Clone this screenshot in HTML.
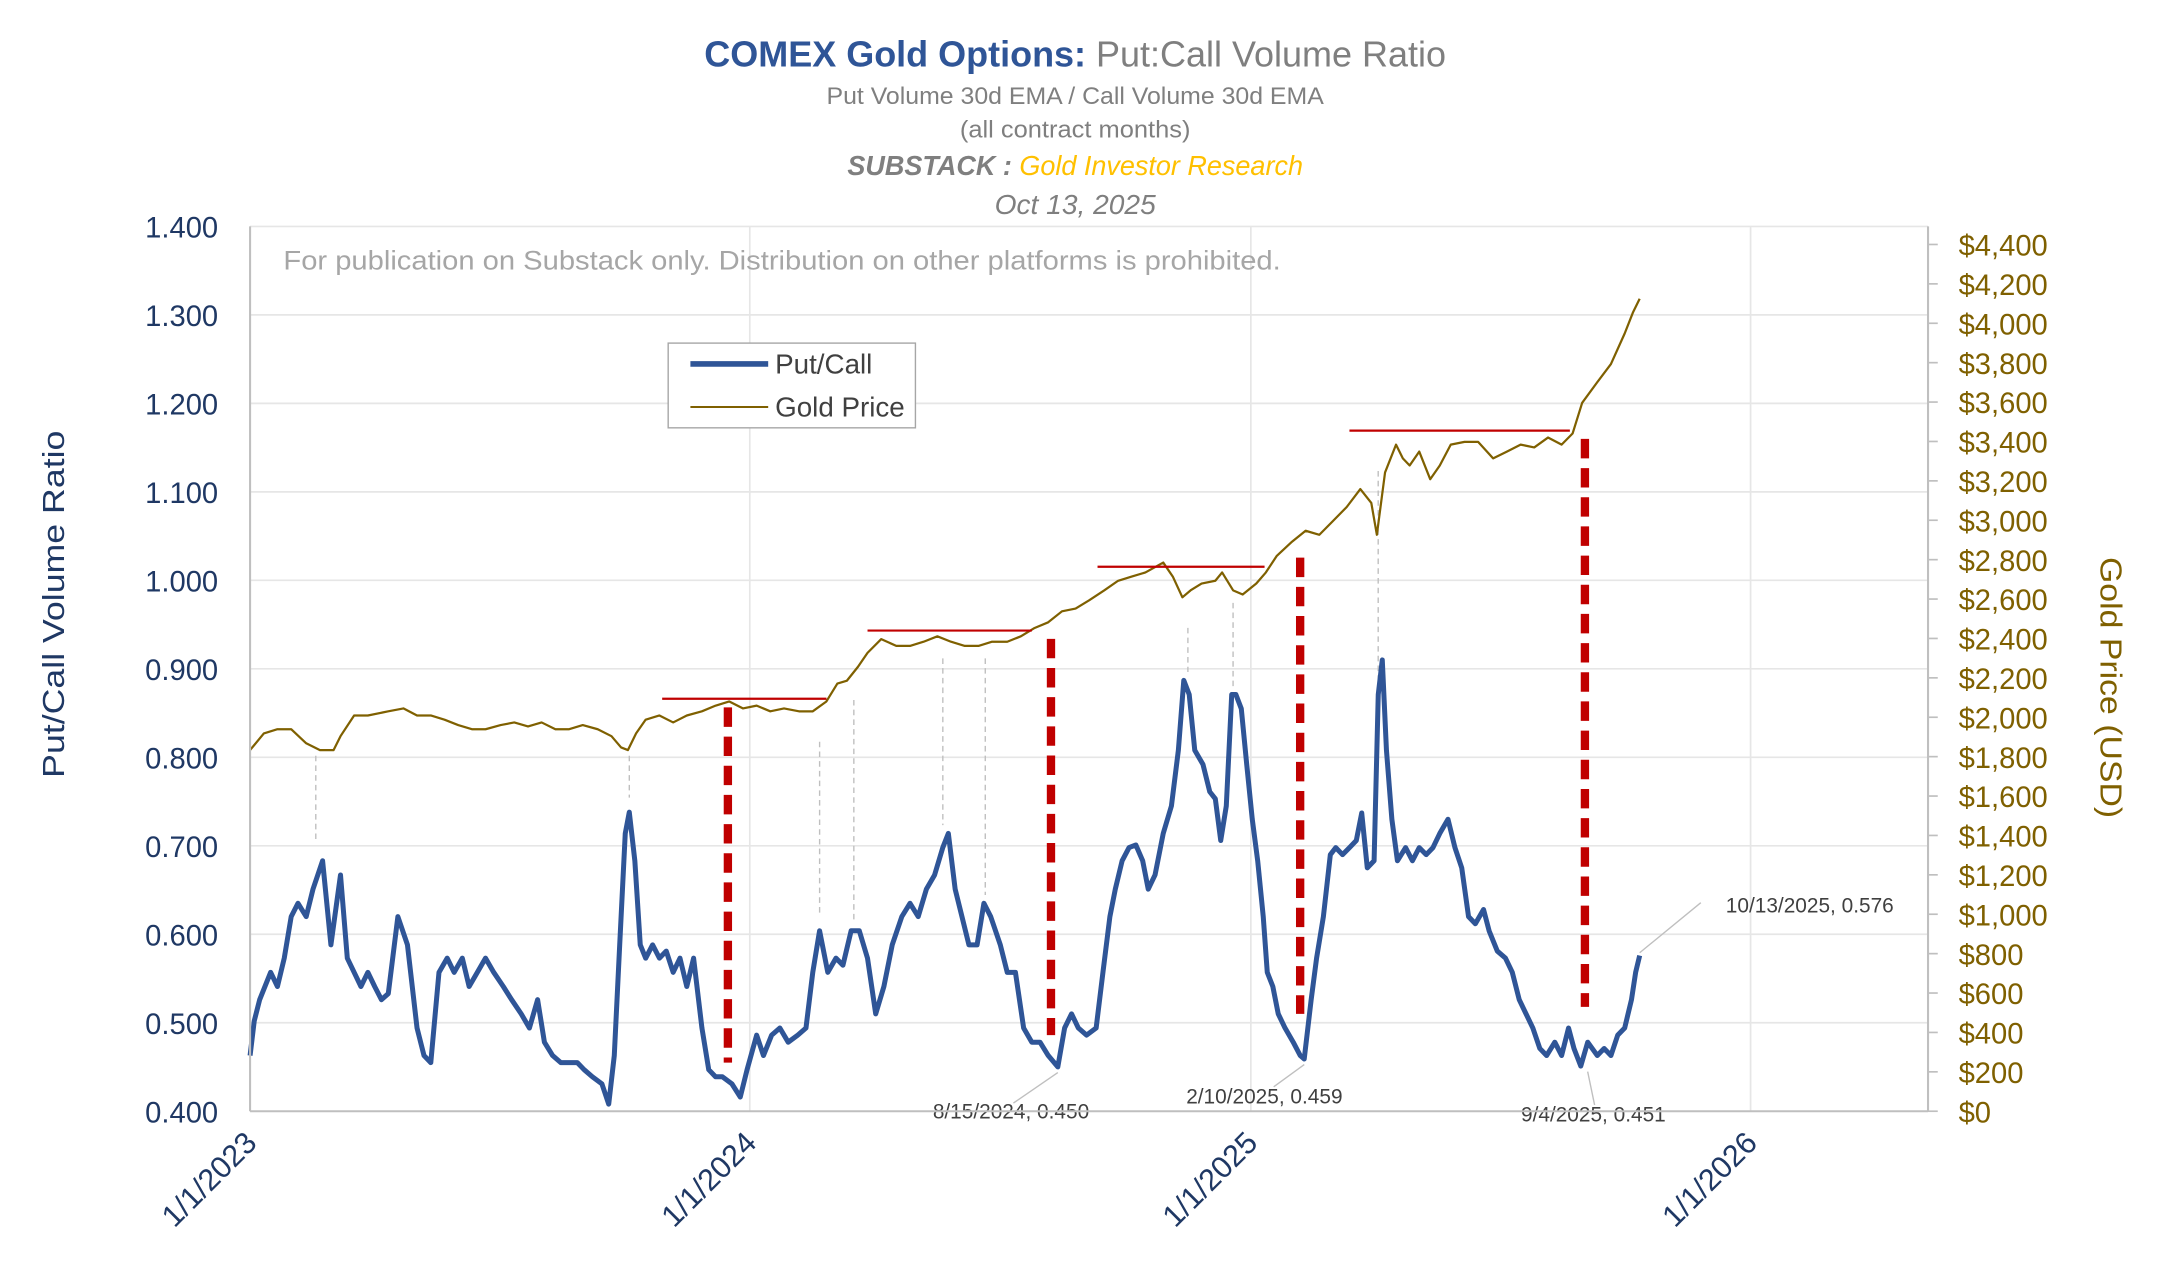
<!DOCTYPE html>
<html><head><meta charset="utf-8">
<style>
html,body{margin:0;padding:0;background:#fff;}
svg{display:block;}
text{font-family:"Liberation Sans",sans-serif;}
</style></head>
<body>
<svg id="chart" width="2167" height="1280" viewBox="0 0 1560 921.5" xmlns="http://www.w3.org/2000/svg">
  <rect x="0" y="0" width="1560" height="921.5" fill="#fff"/>
  <g>
    <text x="774" y="48" text-anchor="middle" font-size="26" textLength="534" lengthAdjust="spacingAndGlyphs"><tspan fill="#2f5597" font-weight="bold">COMEX Gold Options:</tspan><tspan fill="#7f7f7f"> Put:Call Volume Ratio</tspan></text>
    <text x="774" y="75" text-anchor="middle" font-size="17" fill="#7f7f7f" textLength="358" lengthAdjust="spacingAndGlyphs">Put Volume 30d EMA / Call Volume 30d EMA</text>
    <text x="774" y="99" text-anchor="middle" font-size="17" fill="#7f7f7f" textLength="166" lengthAdjust="spacingAndGlyphs">(all contract months)</text>
    <text x="774" y="126" text-anchor="middle" font-size="20" font-style="italic" textLength="328" lengthAdjust="spacingAndGlyphs"><tspan fill="#7f7f7f" font-weight="bold">SUBSTACK : </tspan><tspan fill="#ffc000"> Gold Investor Research</tspan></text>
    <text x="774" y="154" text-anchor="middle" font-size="20" font-style="italic" fill="#7f7f7f" textLength="116" lengthAdjust="spacingAndGlyphs">Oct 13, 2025</text>
  </g>
  <g id="grid"></g>
  <text x="204" y="194" font-size="19" fill="#a6a6a6" textLength="718" lengthAdjust="spacingAndGlyphs">For publication on Substack only. Distribution on other platforms is prohibited.</text>
  <g id="annot"></g>
  <g id="series"></g>
  <g id="axes"></g>
  <text transform="translate(46,435) rotate(-90)" text-anchor="middle" font-size="22" fill="#1f3864" textLength="250" lengthAdjust="spacingAndGlyphs">Put/Call Volume Ratio</text>
  <text transform="translate(1512,495) rotate(90)" text-anchor="middle" font-size="22" fill="#7f6000" textLength="188" lengthAdjust="spacingAndGlyphs">Gold Price (USD)</text>
  <g>
    <rect x="481" y="247" width="178" height="61" fill="#fff" stroke="#a6a6a6" stroke-width="1"/>
    <line x1="497" y1="262" x2="553" y2="262" stroke="#2f5597" stroke-width="4"/>
    <text x="558" y="269" font-size="20" fill="#404040">Put/Call</text>
    <line x1="497" y1="293" x2="553" y2="293" stroke="#7f6000" stroke-width="1.5"/>
    <text x="558" y="300" font-size="20" fill="#404040">Gold Price</text>
  </g>
</svg>
<script>
// ---- data ----
const pcDays = [0,3,7,15,20,25,30,35,41,46,53,59,66,71,76,81,86,91,96,101,108,115,122,127,132,138,144,149,155,160,166,172,178,185,191,198,204,210,215,221,227,233,239,244,250,257,262,266,270,274,277,281,285,289,294,299,304,309,314,319,324,330,335,340,345,352,358,363,370,375,381,387,393,400,406,411,416,422,428,433,439,445,451,457,463,469,476,482,488,494,500,506,510,515,520,525,531,536,541,548,553,559,565,571,577,583,590,595,600,605,611,618,623,628,632,637,642,647,652,656,661,667,673,678,682,686,690,696,701,705,709,713,717,720,724,728,732,736,740,743,747,751,756,762,767,770,775,779,784,789,793,798,803,808,812,816,821,824,827,830,834,838,844,849,854,859,864,869,875,880,885,890,895,901,905,911,917,922,927,932,937,942,947,953,958,963,967,972,977,984,989,994,999,1004,1009,1012,1015];
const pcValues = [.463,.502,.526,.557,.541,.573,.620,.635,.620,.651,.683,.588,.667,.573,.557,.541,.557,.541,.526,.533,.620,.588,.494,.463,.455,.557,.573,.557,.573,.541,.557,.573,.557,.541,.526,.510,.494,.526,.478,.463,.455,.455,.455,.447,.439,.431,.408,.463,.588,.714,.738,.683,.588,.573,.588,.573,.581,.557,.573,.541,.573,.494,.447,.439,.439,.431,.416,.447,.486,.463,.486,.494,.478,.486,.494,.557,.604,.557,.573,.565,.604,.604,.573,.510,.541,.588,.620,.635,.620,.651,.667,.698,.714,.651,.620,.588,.588,.635,.620,.588,.557,.557,.494,.478,.478,.463,.450,.494,.510,.494,.486,.494,.557,.620,.651,.683,.698,.701,.683,.651,.667,.714,.745,.808,.887,.871,.808,.792,.761,.753,.706,.745,.871,.871,.855,.792,.730,.683,.620,.557,.541,.510,.494,.478,.463,.459,.526,.573,.620,.690,.698,.690,.698,.706,.737,.675,.683,.871,.910,.808,.730,.683,.698,.683,.698,.690,.698,.714,.730,.698,.675,.620,.612,.628,.604,.581,.573,.557,.526,.510,.494,.471,.463,.478,.463,.494,.471,.451,.478,.463,.471,.463,.486,.494,.526,.557,.576];
const goldDays = [0,10,20,30,41,51,61,66,76,86,101,112,122,132,142,152,162,172,183,193,203,213,223,233,243,254,264,271,276,282,289,299,309,319,330,340,350,360,370,380,390,401,411,421,429,436,444,451,461,472,482,492,502,512,522,532,542,553,563,573,583,593,603,613,624,634,644,654,667,674,681,687,695,705,710,718,725,735,742,750,761,771,781,791,801,811,819,823,829,837,842,847,854,862,869,877,887,897,908,918,928,938,948,958,966,973,984,994,1004,1010,1015];
const goldValues = [1833,1918,1939,1939,1868,1833,1833,1904,2009,2009,2030,2045,2009,2009,1988,1960,1939,1939,1960,1974,1953,1974,1939,1939,1960,1939,1904,1847,1833,1918,1988,2009,1974,2009,2030,2059,2080,2045,2059,2030,2045,2030,2030,2080,2171,2186,2256,2327,2397,2362,2362,2383,2411,2383,2362,2362,2383,2383,2411,2453,2482,2538,2552,2594,2644,2693,2714,2735,2785,2714,2609,2644,2679,2693,2735,2644,2623,2679,2735,2820,2891,2947,2926,2996,3067,3158,3088,2926,3243,3384,3314,3278,3349,3208,3278,3384,3398,3398,3314,3349,3384,3370,3420,3384,3440,3596,3701,3793,3948,4054,4124];
const pcTicks = [0.4,0.5,0.6,0.7,0.8,0.9,1.0,1.1,1.2,1.3,1.4];
const goldTicks = [0,200,400,600,800,1000,1200,1400,1600,1800,2000,2200,2400,2600,2800,3000,3200,3400,3600,3800,4000,4200,4400];
const xTickDays = [0,365,731,1096];
const xTickLabels = ["1/1/2023","1/1/2024","1/1/2025","1/1/2026"];
const resistDays0 = [301,451,619,803];
const resistDays1 = [421,571,741,964];
const resistLevels = [2094,2440,2764,3455];
const signalDays = [349,585,767,975];
const signalTops = [2050,2398,2810,3413];
const signalBottoms = [0.455,0.486,0.510,0.518];
const guideDays = [48,277,416,441,506,537,685,718,824];
const guideGold = [1833,1833,1904,2116,2327,2327,2482,2609,3278];
const guidePc = [0.695,0.745,0.612,0.604,0.714,0.635,0.887,0.871,0.810];
const calloutDays = [590,770,977,1015];
const calloutValues = [0.450,0.459,0.451,0.576];
const calloutLabels = ["8/15/2024, 0.450","2/10/2025, 0.459","9/4/2025, 0.451","10/13/2025, 0.576"];

// ---- scales ----
const X0=180, X1=1388, Y0=800, Y1=163;
const x = d => X0 + d*360/365.25;
const yL = v => Y0 - (v-0.4)*(Y0-Y1)/1.0;
const yR = v => Y0 - v*(Y0-176)/4400;
const NS="http://www.w3.org/2000/svg";
function mk(tag, attrs, parent){const e=document.createElementNS(NS,tag);for(const k in attrs)e.setAttribute(k,attrs[k]);parent.appendChild(e);return e;}
const grid=document.getElementById('grid'), axes=document.getElementById('axes'), series=document.getElementById('series'), annot=document.getElementById('annot');

pcTicks.forEach((t,i)=>{
  if(i>0){const g=mk('line',{x1:X0,x2:X1,y1:yL(t),y2:yL(t),stroke:'#e6e6e6','stroke-width':1.2},grid);
  
  }
  const tx=mk('text',{x:157,y:yL(t)+8,'text-anchor':'end','font-size':21,fill:'#1f3864'},axes);
  tx.textContent=t.toFixed(3);
  
  
});
xTickDays.forEach((d,i)=>{
  if(i>0){const g=mk('line',{x1:x(d),x2:x(d),y1:Y1,y2:Y0,stroke:'#e6e6e6','stroke-width':1.2},grid);
  
  }
  const tx=mk('text',{transform:`translate(${x(d)+6},${Y0+24}) rotate(-45)`,'text-anchor':'end','font-size':22,fill:'#1f3864'},axes);
  tx.textContent=xTickLabels[i];
  
  
});
goldTicks.forEach(t=>{
  const tk=mk('line',{x1:X1,x2:X1+7,y1:yR(t),y2:yR(t),stroke:'#bfbfbf','stroke-width':1.2},axes);
  
  
  const tx=mk('text',{x:1410,y:yR(t)+8,'font-size':21,fill:'#7f6000'},axes);
  tx.textContent='$'+t.toLocaleString('en-US');
  
  
});
[[X0,Y1,X0,Y0],[X0,Y0,X1,Y0],[X1,Y1,X1,Y0]].forEach(a=>{
  const l=mk('line',{x1:a[0],y1:a[1],x2:a[2],y2:a[3],stroke:'#bfbfbf','stroke-width':1.5},axes);
  
  
});

// guide dashed connectors
guideDays.forEach((d,i)=>{
  const l=mk('line',{x1:x(d),x2:x(d),y1:yR(guideGold[i])+4,y2:yL(guidePc[i])-6,stroke:'#bfbfbf','stroke-width':1,'stroke-dasharray':'4,3'},annot);
  
  
});

// series
const gp=mk('path',{d:goldDays.map((d,i)=>(i?'L':'M')+x(d).toFixed(1)+','+yR(goldValues[i]).toFixed(1)).join(''),fill:'none',stroke:'#7f6000','stroke-width':1.6,'stroke-linejoin':'round'},series);


const pp=mk('path',{d:pcDays.map((d,i)=>(i?'L':'M')+x(d).toFixed(1)+','+yL(pcValues[i]).toFixed(1)).join(''),fill:'none',stroke:'#2f5597','stroke-width':3.6,'stroke-linejoin':'round'},series);



// resistance and signals
resistLevels.forEach((lv,i)=>{
  const l=mk('line',{x1:x(resistDays0[i]),x2:x(resistDays1[i]),y1:yR(lv),y2:yR(lv),stroke:'#c00000','stroke-width':1.6},series);
  
  
});
signalDays.forEach((d,i)=>{
  const l=mk('line',{x1:x(d),x2:x(d),y1:yR(signalTops[i]),y2:yL(signalBottoms[i]),stroke:'#c00000','stroke-width':6,'stroke-dasharray':'14,7'},series);
  
  
});

// callouts
const cOff=[[-32,22,-90,33],[-22,16,-85,28],[5,24,-48,36],[44,-36,62,-29]];
calloutDays.forEach((d,i)=>{
  const px=x(d), py=yL(calloutValues[i])+(i<3?4:-2);
  const o=cOff[i];
  const l=mk('line',{x1:px,y1:py,x2:px+o[0],y2:py+o[1],stroke:'#bfbfbf','stroke-width':1},annot);
  
  
  const t=mk('text',{x:px+o[2],y:py+o[3],'font-size':15,fill:'#404040','font-family':'DejaVu Sans, sans-serif'},annot);
  t.textContent=calloutLabels[i];
  
  
});
</script>
</body></html>
